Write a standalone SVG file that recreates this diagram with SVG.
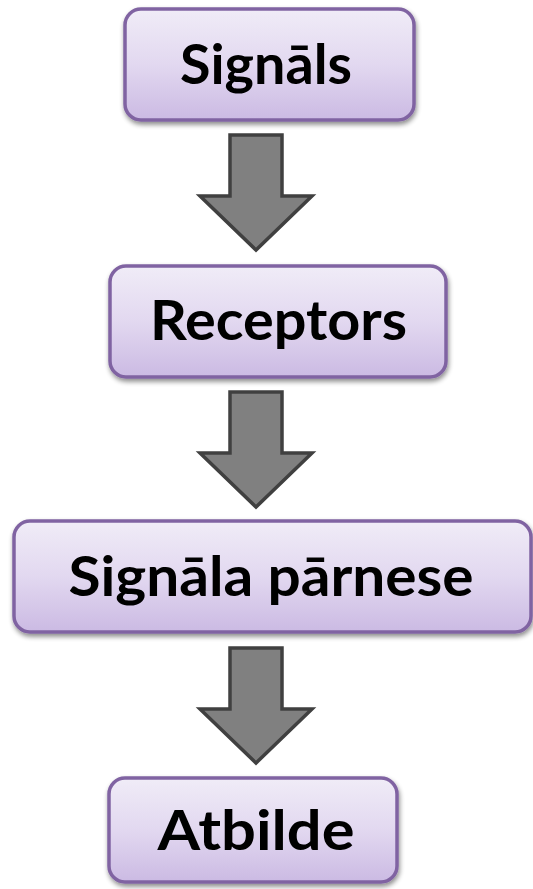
<svg xmlns="http://www.w3.org/2000/svg" width="533" height="889" viewBox="0 0 533 889">
<defs>
<linearGradient id="g" x1="0" y1="0" x2="0" y2="1">
<stop offset="0" stop-color="#F0ECF7"/>
<stop offset="0.5" stop-color="#E2D8F0"/>
<stop offset="1" stop-color="#CBBAE3"/>
</linearGradient>
<filter id="sh" x="-10%" y="-10%" width="120%" height="130%">
<feGaussianBlur in="SourceAlpha" stdDeviation="2.5"/>
<feOffset dx="1" dy="3" result="b"/>
<feComponentTransfer><feFuncA type="linear" slope="0.45"/></feComponentTransfer>
<feMerge><feMergeNode/><feMergeNode in="SourceGraphic"/></feMerge>
</filter>
</defs>
<style>
.box{fill:url(#g);stroke:#8064A2;stroke-width:3.5;filter:url(#sh)}
.t{font-family:Lato,"Liberation Sans",sans-serif;font-weight:bold;font-size:55px;fill:#000;text-anchor:middle}
.arr{fill:#808080;stroke:#404040;stroke-width:3.5;stroke-linejoin:miter}
</style>
<rect width="533" height="889" fill="#fff"/>
<g id="connectors">
<path class="arr" d="M230,135 H282 V196 H312 L256,250 L200,196 H230 Z"/>
<path class="arr" d="M230,392 H282 V453 H312 L256,507 L200,453 H230 Z"/>
<path class="arr" d="M230,648 H282 V709 H312 L256,763 L200,709 H230 Z"/>
</g>
<g id="n1">
<rect class="box" x="125" y="9" width="289" height="111" rx="16"/>
<text class="t" x="266" y="84" textLength="172" lengthAdjust="spacingAndGlyphs">Signāls</text>
</g>
<g id="n2">
<rect class="box" x="110" y="266" width="336" height="111" rx="16"/>
<text class="t" x="278.5" y="340" textLength="257" lengthAdjust="spacingAndGlyphs">Receptors</text>
</g>
<g id="n3">
<rect class="box" x="14" y="521" width="517" height="111" rx="16"/>
<text class="t" x="271" y="596" textLength="405" lengthAdjust="spacingAndGlyphs">Signāla pārnese</text>
</g>
<g id="n4">
<rect class="box" x="109" y="778" width="288" height="104" rx="16"/>
<text class="t" x="256" y="850" textLength="197" lengthAdjust="spacingAndGlyphs">Atbilde</text>
</g>
</svg>
